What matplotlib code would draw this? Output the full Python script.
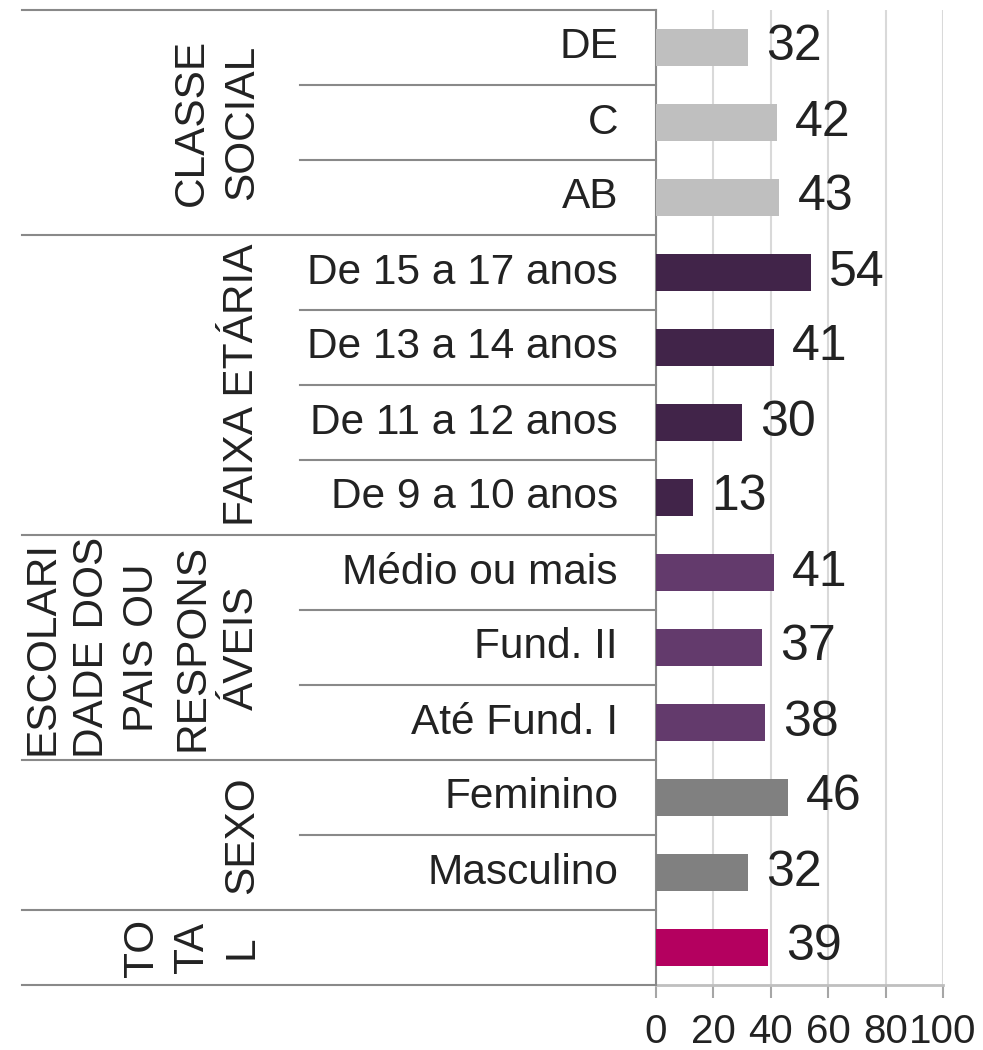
import matplotlib
matplotlib.use("Agg")
import matplotlib.pyplot as plt
from matplotlib.lines import Line2D
from matplotlib.transforms import blended_transform_factory

plt.rcParams['font.family'] = ['Liberation Sans', 'DejaVu Sans']

# Data, bottom to top
categories = ["", "Masculino", "Feminino", "Até Fund. I", "Fund. II", "Médio ou mais",
              "De 9 a 10 anos", "De 11 a 12 anos", "De 13 a 14 anos", "De 15 a 17 anos",
              "AB", "C", "DE"]
values = [39, 32, 46, 38, 37, 41, 13, 30, 41, 54, 43, 42, 32]
groups = ["TO\nTA\nL", "SEXO", "ESCOLARI\nDADE DOS\nPAIS OU\nRESPONS\nÁVEIS",
          "FAIXA ETÁRIA", "CLASSE\nSOCIAL"]
group_sizes = [1, 2, 3, 4, 3]
group_colors = ["#b4005f", "#808080", "#633a6c", "#412449", "#bfbfbf"]
xticks = [0, 20, 40, 60, 80, 100]

W, H = 983, 1050
fig = plt.figure(figsize=(W / 100, H / 100), dpi=100)
ax = fig.add_axes([656 / W, 1 - 985 / H, (943 - 656) / W, (985 - 10) / H])

colors = []
for c, n in zip(group_colors, group_sizes):
    colors += [c] * n

txt = '#222222'
ypos = list(range(len(values)))
ax.barh(ypos, values, height=0.5, color=colors, zorder=3)
for y, v in zip(ypos, values):
    ax.annotate(str(v), (v, y), xytext=(13, 0), textcoords='offset points',
                ha='left', va='center', fontsize=36, color=txt)

ax.set_xlim(0, 100)
ax.set_ylim(-0.5, len(values) - 0.5)
ax.set_xticks(xticks)
ax.set_xticklabels([str(t) for t in xticks], fontsize=29, color=txt)
ax.tick_params(axis='x', length=9, width=1.5, color='#a6a6a6', pad=11)
ax.set_yticks([])
ax.grid(axis='x', color='#d9d9d9', lw=1.5, zorder=0)
for s in ['top', 'right']:
    ax.spines[s].set_visible(False)
ax.spines['left'].set_color('#898989')
ax.spines['left'].set_linewidth(1.5)
ax.spines['bottom'].set_color('#bfbfbf')
ax.spines['bottom'].set_linewidth(2)

tr = blended_transform_factory(fig.transFigure, ax.transData)
x_axis = 656 / W
x_outer = 22 / W
x_inner = 300 / W
line_col = '#898989'

# category labels
for y, lab in zip(ypos, categories):
    fig.text(618 / W, y, lab, transform=tr, ha='right', va='center',
             fontsize=30.5, color=txt)

# separators & group labels
start = 0
boundaries_outer = [-0.5]
for g, n in zip(groups, group_sizes):
    end = start + n
    boundaries_outer.append(end - 0.5)
    for k in range(start + 1, end):
        fig.add_artist(Line2D([x_inner, x_axis], [k - 0.5, k - 0.5], transform=tr,
                              color=line_col, lw=1.5))
    center = (start + end - 1) / 2
    fig.text(262 / W, center, g, transform=tr, ha='right', va='center',
             rotation=90, multialignment='center', fontsize=30.5,
             color=txt, linespacing=1.32)
    start = end
for b in boundaries_outer:
    fig.add_artist(Line2D([x_outer, x_axis], [b, b], transform=tr,
                          color=line_col, lw=1.5))

fig.savefig("out.png", dpi=100)
